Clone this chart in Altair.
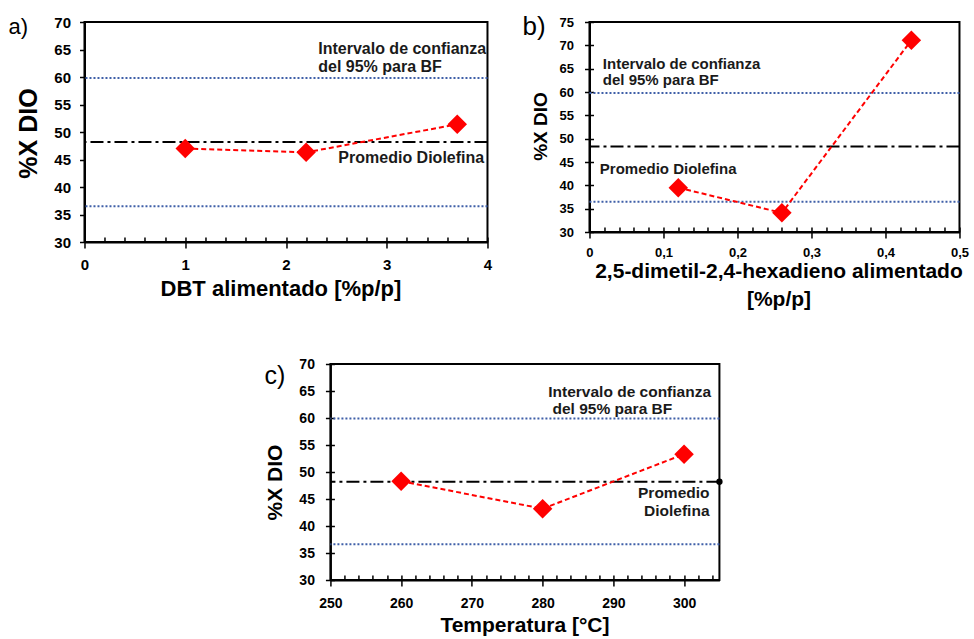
import altair as alt
import pandas as pd

FONT = "Liberation Sans"

# ---------------- data ----------------
# a) DBT alimentado
a_x = [1.0, 2.2, 3.7]
a_y = [47.0, 46.3, 51.4]
# b) 2,5-dimetil-2,4-hexadieno alimentado
b_x = [0.12, 0.26, 0.435]
b_y = [39.5, 34.1, 71.1]
# c) Temperatura
c_x = [260, 280, 300]
c_y = [48.3, 43.2, 53.3]

promedio = {"a": 48.2, "b": 48.3, "c": 48.2}
ic_sup = {"a": 59.8, "b": 59.8, "c": 59.9}
ic_inf = {"a": 36.5, "b": 36.5, "c": 36.6}

a_xticks = [0, 1, 2, 3, 4]
a_xminor = [round(i * 0.2, 2) for i in range(0, 21)]
a_yticks = [30, 35, 40, 45, 50, 55, 60, 65, 70]

b_xticks = [0, 0.1, 0.2, 0.3, 0.4, 0.5]
b_xminor = [round(i * 0.02, 2) for i in range(0, 26)]
b_yticks = [30, 35, 40, 45, 50, 55, 60, 65, 70, 75]

c_xticks = [250, 260, 270, 280, 290, 300]
c_xminor = [250 + 2 * i for i in range(0, 28)]
c_yticks = [30, 35, 40, 45, 50, 55, 60, 65, 70]

RED = "#ff0000"
BLUE = "#3f5fa8"


def panel(xs, ys, key, xdom, xmajor, xminor, ydom, yticks, W, H,
          xtitle, ytitle, cfg, notes_left, notes_right, letter, letter_xy,
          letter_size, xlabel_expr=None, end_dot=False, y_inner=False):
    pts = pd.DataFrame({"x": xs, "y": ys})
    xsc = alt.Scale(domain=xdom, nice=False, zero=False)
    ysc = alt.Scale(domain=ydom, nice=False, zero=False)

    xaxis_kw = dict(
        values=xmajor, tickSize=6, tickWidth=1.5, tickColor="black",
        domainColor="black", domainWidth=2, labelFont=FONT,
        labelFontSize=cfg["lfs"], labelFontWeight="bold", labelColor="black",
        labelPadding=cfg["xlp"], labelFlush=False, labelOverlap=False,
        grid=False, title=xtitle, titleFont=FONT, titleFontSize=cfg["xtfs"],
        titleFontWeight="bold", titleColor="black", titleX=cfg["xtx"],
        titleY=cfg["xty"], titleBaseline="alphabetic", titleAlign="center",
        titleLineHeight=cfg["xtlh"],
    )
    if xlabel_expr:
        xaxis_kw["labelExpr"] = xlabel_expr
    xaxis_main = alt.Axis(**xaxis_kw)
    xaxis_inner = alt.Axis(orient="top", offset=-H, values=xminor, tickSize=5,
                           tickWidth=1.5, tickColor="black", domain=False,
                           labels=False, grid=False, title=None)
    yaxis = alt.Axis(
        values=yticks, tickSize=5, tickWidth=1.5, tickColor="black",
        domainColor="black", domainWidth=2, labelFont=FONT,
        labelFontSize=cfg["lfs"], labelFontWeight="bold", labelColor="black",
        labelPadding=cfg["ylp"], labelFlush=False, labelOverlap=False,
        grid=False, title=ytitle, titleFont=FONT, titleFontSize=cfg["ytfs"],
        titleFontWeight="bold", titleColor="black", titleX=cfg["ytx"],
        titleY=cfg["yty"], titleBaseline="middle", titleAngle=270,
        titleAlign="center",
    )
    yaxis_inner = alt.Axis(orient="right", offset=-W, values=yticks, tickSize=4,
                           tickWidth=1.5, tickColor="black", domain=False,
                           labels=False, grid=False, title=None)
    Yn = lambda: alt.Y("y:Q", scale=ysc, axis=None)

    ci = alt.Chart(pd.DataFrame({"y": [ic_sup[key], ic_inf[key]]})).mark_rule(
        color=BLUE, strokeDash=[2, 2], strokeWidth=2
    ).encode(y=Yn())
    mean = alt.Chart(pd.DataFrame({"y": [promedio[key]]})).mark_rule(
        color="black", strokeDash=[13, 4, 3, 4], strokeWidth=2
    ).encode(y=Yn())
    line = alt.Chart(pts).mark_line(
        color=RED, strokeDash=[5, 3], strokeWidth=2
    ).encode(x=alt.X("x:Q", scale=xsc, axis=xaxis_inner),
             y=alt.Y("y:Q", scale=ysc, axis=yaxis_inner) if y_inner else Yn())
    points = alt.Chart(pts).mark_point(
        shape="diamond", filled=True, color=RED, size=380, opacity=1
    ).encode(x=alt.X("x:Q", scale=xsc, axis=xaxis_main),
             y=alt.Y("y:Q", scale=ysc, axis=yaxis))
    layers = [ci, mean, line, points]

    if notes_left:
        layers.append(alt.Chart(pd.DataFrame(notes_left)).mark_text(
            align="left", baseline="middle", font=FONT, fontSize=cfg["nfs"],
            fontWeight="bold", color="#1a1a1a"
        ).encode(x=alt.X("x:Q", scale=xsc, axis=None), y=Yn(), text="t:N"))
    if notes_right:
        layers.append(alt.Chart(pd.DataFrame(notes_right)).mark_text(
            align="right", baseline="middle", font=FONT, fontSize=cfg["nfs"],
            fontWeight="bold", color="#1a1a1a"
        ).encode(x=alt.X("x:Q", scale=xsc, axis=None), y=Yn(), text="t:N"))
    if end_dot:
        layers.append(alt.Chart(pd.DataFrame({"x": [xdom[1]], "y": [promedio[key]]}))
                      .mark_circle(color="black", size=40, opacity=1)
                      .encode(x=alt.X("x:Q", scale=xsc, axis=None), y=Yn()))
    layers.append(alt.Chart(pd.DataFrame({"t": [letter]})).mark_text(
        align="left", baseline="middle", font=FONT, fontSize=letter_size,
        color="black"
    ).encode(x=alt.value(letter_xy[0]), y=alt.value(letter_xy[1]), text="t:N"))

    return (alt.layer(*layers)
            .resolve_axis(x="independent", y="independent")
            .properties(width=W, height=H))


pa = panel(
    a_x, a_y, "a", [0, 4], a_xticks, a_xminor, [30, 70], a_yticks, 403, 220,
    "DBT alimentado  [%p/p]", "%X DIO",
    dict(lfs=15, xlp=9, ylp=9, xtfs=22, xtx=196, xty=53, xtlh=22,
         ytfs=25, ytx=-56, yty=111, nfs=16),
    [{"x": 2.32, "y": 65.1, "t": "Intervalo de confianza"},
     {"x": 2.32, "y": 61.8, "t": "del 95%  para BF"},
     {"x": 2.52, "y": 45.2, "t": "Promedio Diolefina"}],
    None, "a)", (-76, 5), 22,
)

pb = panel(
    b_x, b_y, "b", [0, 0.5], b_xticks, b_xminor, [30, 75], b_yticks, 370, 210,
    ["2,5-dimetil-2,4-hexadieno  alimentado", "[%p/p]"], "%X DIO",
    dict(lfs=13, xlp=8, ylp=11, xtfs=21, xtx=189, xty=45.5, xtlh=28,
         ytfs=19, ytx=-49, yty=104, nfs=15),
    [{"x": 0.018, "y": 66.0, "t": "Intervalo de confianza"},
     {"x": 0.018, "y": 62.5, "t": "del 95%  para BF"},
     {"x": 0.014, "y": 43.4, "t": "Promedio Diolefina"}],
    None, "b)", (-67, 5), 26,
    xlabel_expr="datum.value == 0 ? '0' : replace(format(datum.value, '.1f'), '.', ',')",
    y_inner=True,
)

pc = panel(
    c_x, c_y, "c", [250, 305], c_xticks, c_xminor, [30, 70], c_yticks, 389, 216,
    "Temperatura [°C]", "%X DIO",
    dict(lfs=14, xlp=10, ylp=11, xtfs=21, xtx=194, xty=51, xtlh=22,
         ytfs=21, ytx=-55, yty=118, nfs=15.5),
    [{"x": 280.8, "y": 64.8, "t": "Intervalo de confianza"},
     {"x": 281.4, "y": 61.6, "t": "del 95%  para BF"}],
    [{"x": 303.6, "y": 46.1, "t": "Promedio"},
     {"x": 303.6, "y": 42.8, "t": "Diolefina"}],
    "c)", (-66, 12), 25, end_dot=True, y_inner=True,
)

top = alt.hconcat(pa, pb, spacing=102, bounds="flush")
chart = alt.vconcat(top, pc, spacing=45, center=True).properties(
    padding={"left": 7, "top": 13, "right": 2, "bottom": 0}
).configure_view(stroke="black", strokeWidth=2)

chart.save("out.html", embed_options={"renderer": "svg", "actions": False})
